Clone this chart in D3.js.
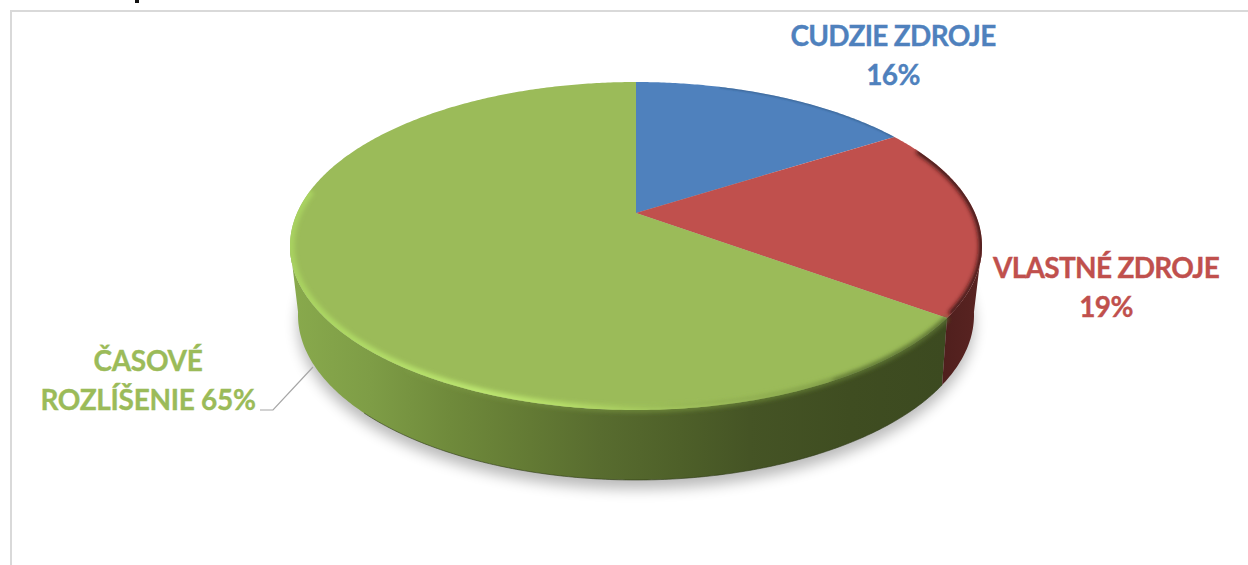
<!DOCTYPE html>
<html>
<head>
<meta charset="utf-8">
<script src="https://cdn.jsdelivr.net/npm/d3@7.9.0/dist/d3.min.js"></script>
<style>
    html, body { margin: 0; padding: 0; background: #fff; overflow: hidden; }
    svg { display: block; }
    text { font-family: Lato, Carlito, "Open Sans", sans-serif; font-weight: 700; }
</style>
</head>
<body>
<div id="chart"></div>
<script>
// ---------- DATA ----------

const sliceNames = ["CUDZIE ZDROJE", "VLASTNÉ ZDROJE", "ČASOVÉ ROZLÍŠENIE"];
const sliceValues = [16, 19, 65];
const sliceColors = ["#4f81bd", "#c0504d", "#9bbb59"];
const labelLines = [
    ["CUDZIE ZDROJE", "16%"],
    ["VLASTNÉ ZDROJE", "19%"],
    ["ČASOVÉ", "ROZLÍŠENIE 65%"]
];

// ---------- SETUP ----------

const width = 1248;
const height = 565;
const svg = d3.select("#chart").append("svg")
    .attr("width", width)
    .attr("height", height);
const defs = svg.append("defs");

// 3D disc: ellipse + perspective offset of the pie centre
function disc(cx, cy, rx, ry, shift) {
    const k = shift / ry;
    const a = rx * Math.sqrt(1 - k * k);
    const project = theta => {
        const u = Math.sin(theta), v = -Math.cos(theta);
        const w = 1 + k * v;
        return [cx + a * u / w, cy + (ry * v + shift) / w];
    };
    project.k = k;
    return project;
}

const topDisc = disc(636, 246, 346, 164, -33);
const bottomDisc = disc(636, 315, 338, 165, -36);
const apex = [636, 213];

const pie = d3.pie().sort(null).value(d => d);
const arcs = pie(sliceValues);
const line = d3.line();

// points along the disc edge from a0 to a1
function edge(project, a0, a1) {
    const n = Math.max(2, Math.ceil(Math.abs(a1 - a0) / 0.01));
    return d3.range(n + 1).map(i => project(a0 + (a1 - a0) * i / n));
}

const TAU = Math.PI * 2;
const rightAngle = Math.acos(topDisc.k);
const leftAngle = TAU - rightAngle;
const greenArc = arcs[2];
const redArc = arcs[1];

const greenWallPath = line(edge(topDisc, greenArc.startAngle, leftAngle)
    .concat(edge(bottomDisc, leftAngle, greenArc.startAngle))) + "Z";
const redWallPath = line(edge(topDisc, rightAngle, redArc.endAngle)
    .concat(edge(bottomDisc, redArc.endAngle, rightAngle))) + "Z";
const topPath = line(edge(topDisc, 0, TAU)) + "Z";

// ---------- GRADIENTS + FILTERS ----------

function hGradient(id, stops) {
    const g = defs.append("linearGradient")
        .attr("id", id)
        .attr("gradientUnits", "userSpaceOnUse")
        .attr("x1", 290).attr("x2", 985).attr("y1", 0).attr("y2", 0);
    stops.forEach(s => {
        g.append("stop")
            .attr("offset", (s[0] - 290) / 695)
            .attr("stop-color", s[1])
            .attr("stop-opacity", s[2] === undefined ? 1 : s[2]);
    });
}

hGradient("greenWall", [
    [295, "#88a94c"], [370, "#7e9d46"], [450, "#6f8a3b"], [530, "#637a34"],
    [600, "#586c2f"], [680, "#4e6029"], [750, "#455425"], [850, "#3f4d21"], [945, "#3c4a20"]
]);
hGradient("redWall", [[940, "#4f1f1d"], [985, "#5a2422"]]);
hGradient("greenRim", [
    [290, "#a8d160"], [330, "#acd763"], [480, "#bce670"], [560, "#b6de69"],
    [640, "#a6ca5f"], [720, "#9cbc59"], [945, "#9bbb59", 0]
]);
hGradient("greenBlend", [
    [290, "#9bbb59", 0], [560, "#7f9c46", 0.5], [680, "#6b8538"], [800, "#5f7831"], [945, "#5a7030"]
]);

function blur(id, dev) {
    defs.append("filter").attr("id", id)
        .attr("x", "-10%").attr("y", "-10%").attr("width", "120%").attr("height", "130%")
        .append("feGaussianBlur").attr("stdDeviation", dev);
}
blur("shadowBlur", 7);
blur("rimBlur", 2);
blur("rimBlurSmall", 0.9);

defs.append("clipPath").attr("id", "topClip")
    .append("path")
    .attr("d", topPath);

const discClip = defs.append("clipPath").attr("id", "discClip");
discClip.append("path").attr("d", topPath);
discClip.append("path").attr("d", greenWallPath);
discClip.append("path").attr("d", redWallPath);

// ---------- FRAME ----------

svg.append("path")
    .attr("d", `M11,${height}V11H${width}`)
    .attr("fill", "none")
    .attr("stroke", "#d9d9d9")
    .attr("stroke-width", 2);

// tail of the cut off title above the chart
svg.append("rect")
    .attr("x", 135)
    .attr("y", 0)
    .attr("width", 4)
    .attr("height", 3)
    .attr("fill", "#111");

// ---------- SHADOW ----------

svg.append("path")
    .attr("d", line(edge(bottomDisc, 0, TAU)) + "Z")
    .attr("transform", "translate(0,9)")
    .attr("fill", "#000")
    .attr("opacity", 0.27)
    .attr("filter", "url(#shadowBlur)");

// ---------- WALLS ----------

svg.append("path")
    .attr("d", greenWallPath)
    .attr("fill", "url(#greenWall)");

svg.append("path")
    .attr("d", redWallPath)
    .attr("fill", "url(#redWall)");

// darker foot of the wall
svg.append("path")
    .attr("d", line(edge(bottomDisc, greenArc.startAngle, leftAngle - 0.6)))
    .attr("fill", "none")
    .attr("stroke", "#2f3a17")
    .attr("stroke-width", 1)
    .attr("opacity", 0.6);

// ---------- TOP FACE ----------

svg.append("g").selectAll("path")
    .data(arcs)
    .join("path")
    .attr("d", d => line([apex].concat(edge(topDisc, d.startAngle, d.endAngle))) + "Z")
    .attr("fill", (d, i) => sliceColors[i]);

// ---------- BEVEL ON THE RIM ----------

// soft edge between top and wall
svg.append("g").attr("clip-path", "url(#discClip)")
    .append("path")
    .attr("d", line(edge(topDisc, greenArc.startAngle, Math.PI + 0.6)))
    .attr("fill", "none")
    .attr("stroke", "url(#greenBlend)")
    .attr("stroke-width", 5)
    .attr("filter", "url(#rimBlur)");

const rim = svg.append("g").attr("clip-path", "url(#topClip)");

// light band, a bit inside the edge on the front left
rim.append("path")
    .attr("d", line(edge(topDisc, Math.PI - 0.5, leftAngle + 0.35)))
    .attr("fill", "none")
    .attr("stroke", "url(#greenRim)")
    .attr("stroke-width", 9)
    .attr("filter", "url(#rimBlur)");

rim.append("path")
    .attr("d", line(edge(topDisc, redArc.startAngle + 0.12, redArc.endAngle - 0.02)))
    .attr("fill", "none")
    .attr("stroke", "#3a1512")
    .attr("stroke-width", 6)
    .attr("filter", "url(#rimBlur)");

rim.append("path")
    .attr("d", line(edge(topDisc, arcs[0].startAngle + 0.3, arcs[0].endAngle)))
    .attr("fill", "none")
    .attr("stroke", "#2f5680")
    .attr("stroke-width", 1.5)
    .attr("filter", "url(#rimBlurSmall)");

// ---------- LABELS ----------

const labelX = [893, 1106, 148];
const labelY = [46, 278, 371];
const labelTracking = [-0.7, -0.7, -0.3];
const lineGap = 39;

const labels = svg.append("g").selectAll("text")
    .data(sliceNames)
    .join("text")
    .attr("text-anchor", "middle")
    .attr("font-size", 28)
    .attr("letter-spacing", (d, i) => labelTracking[i])
    .attr("stroke-width", 0.35)
    .attr("stroke", (d, i) => sliceColors[i])
    .attr("fill", (d, i) => sliceColors[i]);

labels.each(function (d, i) {
    d3.select(this).selectAll("tspan")
        .data(labelLines[i])
        .join("tspan")
        .attr("x", labelX[i])
        .attr("y", (t, j) => labelY[i] + j * lineGap)
        .text(t => t);
});

// leader line for the big slice
svg.append("path")
    .attr("d", line([[313, 367], [273, 410], [260, 410]]))
    .attr("fill", "none")
    .attr("stroke", "#a6a6a6")
    .attr("stroke-width", 1.2);
</script>
</body>
</html>
